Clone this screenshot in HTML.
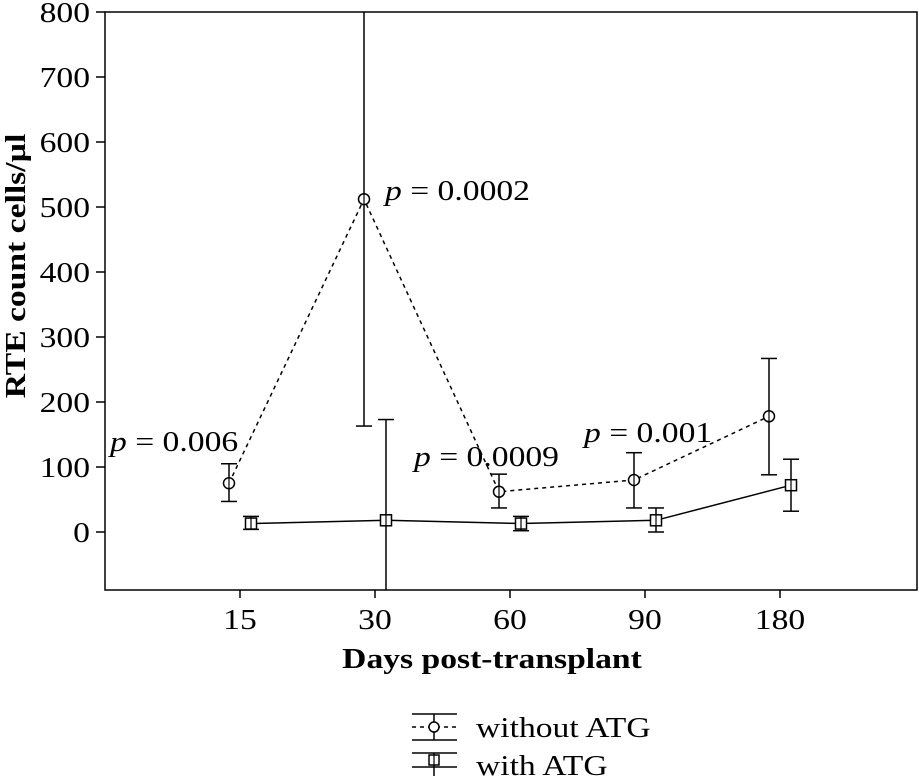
<!DOCTYPE html>
<html><head><meta charset="utf-8"><style>
body{margin:0;background:#fff;width:919px;height:776px;overflow:hidden}
text{font-family:"Liberation Serif",serif;fill:#000}
</style></head><body>
<svg width="919" height="776">
<g id="g"></g>
</svg>
<script>
const categories=["15","30","60","90","180"];
const withoutMean=[75,512,62,80,178];
const withoutLo=[47,163,37,37,88];
const withoutHi=[105,800,89,122,267];
const withMean=[13,18,13,18,72];
const withLo=[4,-90,2,0,32];
const withHi=[24,173,24,37,112];
const yTicks=[0,100,200,300,400,500,600,700,800];
const pLabels=["p = 0.006","p = 0.0002","p = 0.0009","p = 0.001"];
const NS="http://www.w3.org/2000/svg";
const g=document.getElementById('g');
const L=105,R=917,T=12,B=590;
const FS=28;
const y=v=>532-v*0.65;
const xc=i=>240+i*135;
const texts=[];
function mk(t,a,p){const e=document.createElementNS(NS,t);for(const k in a)e.setAttribute(k,a[k]);(p||g).appendChild(e);if(t==='text')texts.push(e);return e;}
const frame=mk('rect',{x:L,y:T,width:R-L,height:B-T,fill:'none',stroke:'#000','stroke-width':1.5});

yTicks.forEach(v=>{
 const l=mk('line',{x1:L-9,x2:L,y1:y(v),y2:y(v),stroke:'#000','stroke-width':1.5});
 
 const t=mk('text',{x:L-15,y:y(v)+10,'text-anchor':'end','font-size':FS});t.textContent=v;
 
});
categories.forEach((c,i)=>{
 const l=mk('line',{x1:xc(i),x2:xc(i),y1:B,y2:B+8,stroke:'#000','stroke-width':1.5});
 
 const t=mk('text',{x:xc(i),y:B+39,'text-anchor':'middle','font-size':FS});t.textContent=c;
 
});
let t=mk('text',{x:492,y:668,'text-anchor':'middle','font-size':FS,'font-weight':'bold'});t.textContent='Days post-transplant';

t=mk('text',{x:0,y:0,'text-anchor':'middle','font-size':FS,'font-weight':'bold',transform:'translate(25,266) rotate(-90)'});t.textContent='RTE count cells/µl';

function clampY(v){return Math.max(T,Math.min(B,y(v)));}
function series(mean,lo,hi,off,dash,marker,name){
 const pts=mean.map((m,i)=>(xc(i)+off)+','+y(m)).join(' ');
 const pl=mk('polyline',{points:pts,fill:'none',stroke:'#000','stroke-width':1.5,'stroke-dasharray':dash});
 
 mean.forEach((m,i)=>{
  const x=xc(i)+off;
  const e=mk('line',{x1:x,x2:x,y1:clampY(hi[i]),y2:clampY(lo[i]),stroke:'#000','stroke-width':1.5});
  
  [hi[i],lo[i]].forEach(v=>{if(y(v)>T&&y(v)<B){const c=mk('line',{x1:x-8,x2:x+8,y1:y(v),y2:y(v),stroke:'#000','stroke-width':1.5});
   }});
  let mm;
  if(marker==='circle')mm=mk('circle',{cx:x,cy:y(m),r:5.5,fill:'#fff',stroke:'#000','stroke-width':1.5});
  else mm=mk('rect',{x:x-5.5,y:y(m)-5.5,width:11,height:11,fill:'#fff',stroke:'#000','stroke-width':1.5});
  mk('line',{x1:x,x2:x,y1:y(m)-5.5,y2:y(m)+5.5,stroke:'#000','stroke-width':1.2});
  
 });
}
series(withoutMean,withoutLo,withoutHi,-11,'4,4','circle','without-atg');
series(withMean,withLo,withHi,11,'','square','with-atg');
const pPos=[[110,451],[385,200],[414,466],[584,442]];
pLabels.forEach((s,i)=>{
 const tx=mk('text',{x:pPos[i][0],y:pPos[i][1],'font-size':FS});
 const a=mk('tspan',{'font-style':'italic'},tx);a.textContent='p';
 const b=mk('tspan',{},tx);b.textContent=s.slice(1);
 
});
const lg=mk('g',{});
[714,740,753,767].forEach(yy=>mk('line',{x1:412,x2:457,y1:yy,y2:yy,stroke:'#000','stroke-width':1.5},lg));
mk('line',{x1:412,x2:457,y1:727,y2:727,stroke:'#000','stroke-width':1.5,'stroke-dasharray':'4,4'},lg);
mk('line',{x1:434,x2:434,y1:714,y2:740,stroke:'#000','stroke-width':1.5},lg);
mk('circle',{cx:434,cy:727,r:5,fill:'#fff',stroke:'#000','stroke-width':1.5},lg);
mk('line',{x1:434,x2:434,y1:753,y2:776,stroke:'#000','stroke-width':1.5},lg);
mk('rect',{x:429,y:755,width:10,height:10,fill:'#fff',stroke:'#000','stroke-width':1.5},lg);
mk('line',{x1:434,x2:434,y1:755,y2:765,stroke:'#000','stroke-width':1.2},lg);
let le=mk('text',{x:476,y:737,'font-size':FS},lg);le.textContent='without ATG';

le=mk('text',{x:476,y:775,'font-size':FS},lg);le.textContent='with ATG';

texts.forEach(tx=>{const w=tx.getComputedTextLength();tx.setAttribute('textLength',(w*1.2).toFixed(1));tx.setAttribute('lengthAdjust','spacingAndGlyphs');});
</script>
</body></html>
